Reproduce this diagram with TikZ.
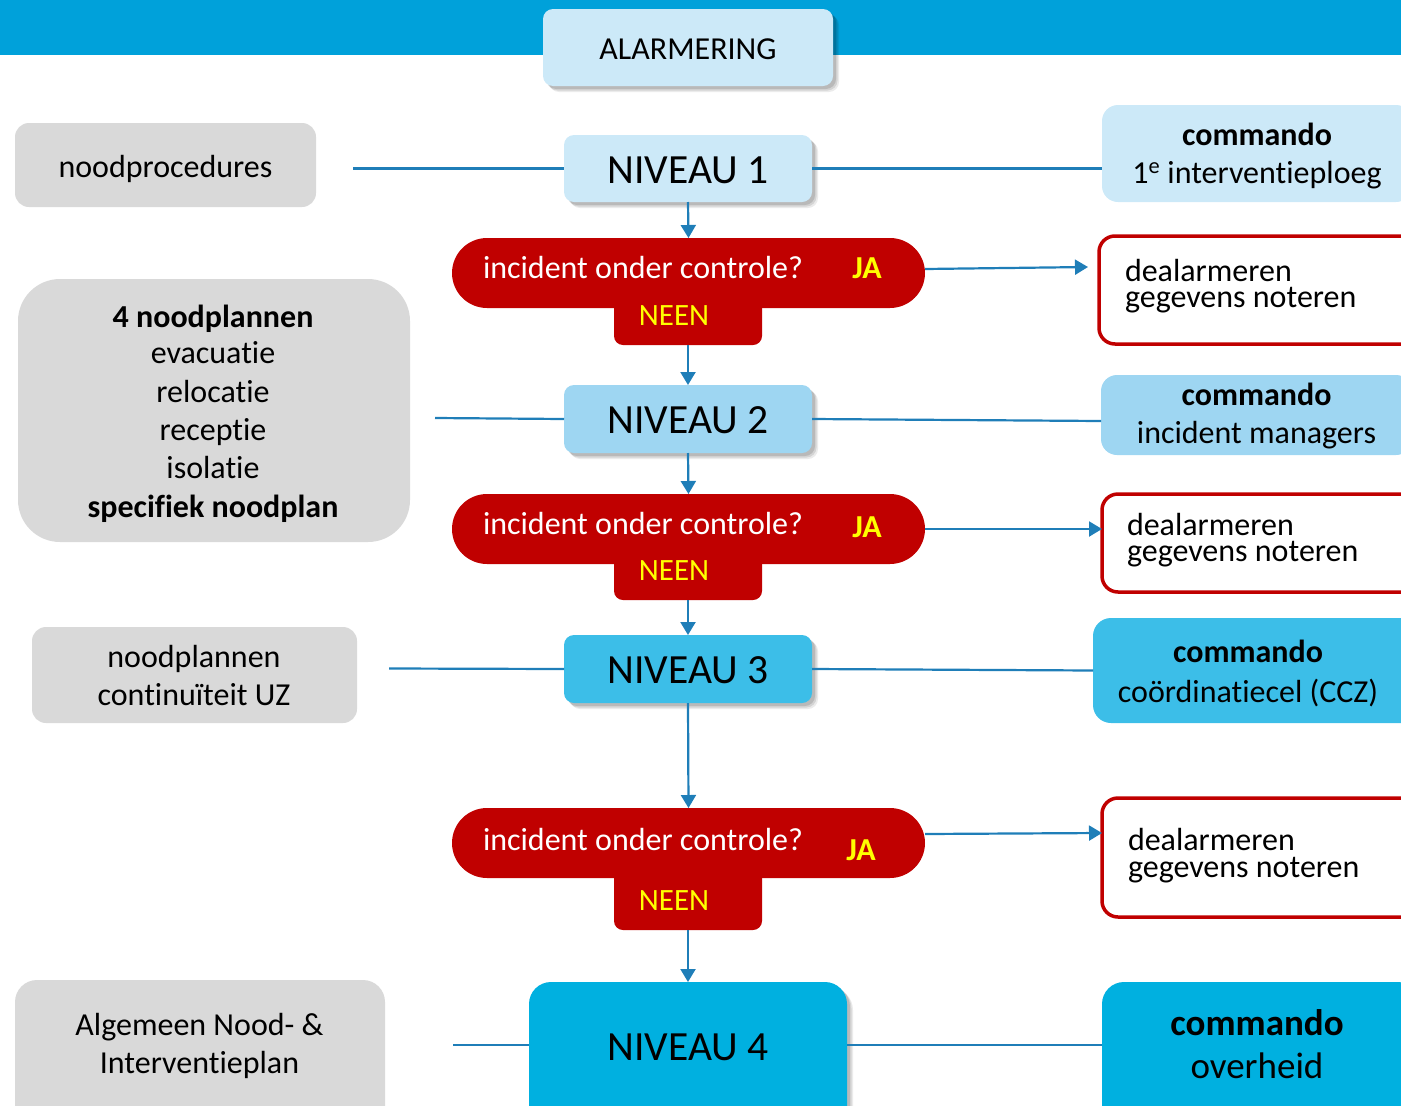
\documentclass[tikz,border=0pt]{standalone}
\usepackage{fontspec}
\setmainfont{Carlito}[Ligatures={NoCommon}]
\usetikzlibrary{shadows,arrows.meta,calc}
\definecolor{band}{RGB}{0,161,218}
\definecolor{lvlA}{RGB}{204,233,248}
\definecolor{lvlB}{RGB}{158,214,242}
\definecolor{lvlC}{RGB}{60,190,232}
\definecolor{lvlD}{RGB}{0,176,224}
\definecolor{grayb}{RGB}{217,217,217}
\definecolor{redb}{RGB}{192,0,0}
\definecolor{yel}{RGB}{255,255,0}
\definecolor{arrb}{RGB}{31,126,184}
\begin{document}
\begin{tikzpicture}[x=1pt,y=-1pt,
  box/.style={rectangle, draw=none, inner sep=0pt, outer sep=0pt},
  shad/.style={
    drop shadow={shadow xshift=6pt, shadow yshift=-6pt, opacity=0.08, fill=black},
    drop shadow={shadow xshift=4.5pt, shadow yshift=-4.5pt, opacity=0.1, fill=black},
    drop shadow={shadow xshift=3pt, shadow yshift=-3pt, opacity=0.12, fill=black}},
  lvlbox/.style={box, rounded corners=10pt, shad},
  cmdbox/.style={box, rounded corners=16pt},
  graybox/.style={box, fill=grayb, rounded corners=14pt},
  decbox/.style={box, fill=redb},
  dealbox/.style={box, draw=redb, line width=3.5pt, fill=white, rounded corners=16pt},
  txt/.style={inner sep=0pt, outer sep=0pt, anchor=base, font=\fontsize{32}{38}\selectfont},
  txtl/.style={txt, anchor=base west},
  big/.style={txt, font=\fontsize{41.5}{49}\selectfont},
  bold/.style={txt, font=\fontsize{32}{38}\selectfont\bfseries},
  ja/.style={txt, text=yel, font=\fontsize{32}{38}\selectfont\bfseries},
  neen/.style={txt, text=yel, font=\fontsize{31}{37}\selectfont},
  qtxt/.style={txtl, text=white},
  link/.style={draw=arrb, line width=2.2pt},
  arr/.style={link, -{Triangle[width=15pt,length=13pt]}}
]
\useasboundingbox (0,0) rectangle (1401,1106);
\clip (0,0) rectangle (1401,1106);

% top band
\node[box, fill=band, minimum width=1401, minimum height=55] (topband) at (700.5,27.5) {};

% left gray boxes
\node[graybox, minimum width=301, minimum height=84] (g1) at (165.5,165) {};
\node[graybox, rounded corners=42pt, minimum width=392, minimum height=263] (g2) at (214,410.5) {};
\node[graybox, minimum width=325, minimum height=96] (g3) at (194.5,675) {};
\node[graybox, rounded corners=22pt, minimum width=370, minimum height=160] (g4) at (200,1060) {};

% connector free ends
\coordinate (l1) at (353,168.5);
\coordinate (l2) at (435,418);
\coordinate (l3) at (389,668.5);
\coordinate (l4) at (453,1045);

% level boxes
\node[lvlbox, fill=lvlA, minimum width=290, minimum height=77] (alarm) at (688,47.5) {};
\node[lvlbox, fill=lvlA, minimum width=248, minimum height=67] (nv1) at (688,168.5) {};
\node[lvlbox, fill=lvlB, minimum width=248, minimum height=68] (nv2) at (688,419) {};
\node[lvlbox, fill=lvlC, minimum width=248, minimum height=68] (nv3) at (688,669) {};
\node[lvlbox, fill=lvlD, rounded corners=22pt, minimum width=318, minimum height=158] (nv4) at (688,1061) {};

% commando boxes
\node[cmdbox, fill=lvlA, minimum width=310, minimum height=97] (c1) at (1257,153.5) {};
\node[cmdbox, fill=lvlB, minimum width=311, minimum height=80] (c2) at (1256.5,415) {};
\node[cmdbox, fill=lvlC, rounded corners=18pt, minimum width=327, minimum height=105] (c3) at (1256.5,670.5) {};
\node[cmdbox, fill=lvlD, rounded corners=22pt, minimum width=318, minimum height=158] (c4) at (1261,1061) {};

% decisions
\node[decbox, rounded corners=9pt, minimum width=148, minimum height=55] (t1) at (688,317.5) {};
\node[decbox, rounded corners=35pt, minimum width=473, minimum height=70] (d1) at (688.5,273) {};
\node[decbox, rounded corners=9pt, minimum width=148, minimum height=54] (t2) at (688,573) {};
\node[decbox, rounded corners=35pt, minimum width=473, minimum height=70] (d2) at (688.5,529) {};
\node[decbox, rounded corners=9pt, minimum width=148, minimum height=70] (t3) at (688,895) {};
\node[decbox, rounded corners=35pt, minimum width=473, minimum height=70] (d3) at (688.5,843) {};

% dealarmeren boxes
\node[dealbox, minimum width=331, minimum height=108] (dl1) at (1264.5,290) {};
\node[dealbox, minimum width=328, minimum height=98] (dl2) at (1266,543) {};
\node[dealbox, minimum width=328, minimum height=119] (dl3) at (1266,857.5) {};

% horizontal links
\draw[link] (l1) -- (nv1.west);
\draw[link] (nv1.east) -- (nv1.east -| c1.west);
\draw[link] (l2) -- (nv2.west);
\draw[link] (nv2.east) -- ($(c2.west)+(0,6)$);
\draw[link] (l3) -- (nv3.west);
\draw[link] (nv3.east) -- (c3.west);
\draw[link] (l4) -- (l4 -| nv4.west);
\draw[link] (l4 -| nv4.east) -- (l4 -| c4.west);

% vertical arrows
\draw[arr] (nv1.south) -- (d1.north);
\draw[arr] (t1.south) -- (nv2.north);
\draw[arr] (nv2.south) -- (d2.north);
\draw[arr] (t2.south) -- (nv3.north);
\draw[arr] (nv3.south) -- (d3.north);
\draw[arr] (t3.south) -- (nv4.north);

% JA arrows
\coordinate (ja1) at (1088,267);
\draw[arr] ([yshift=4pt]d1.east) -- (ja1);
\draw[arr] (d2.east) -- ($(dl2.west)+(0,-14)$);
\draw[arr] ([yshift=9pt]d3.east) -- ($(dl3.west)+(0,-24.5)$);

% texts
\node[txt] (talarm) at (688,59) {ALARMERING};
\node[big] (tnv1) at (688,183) {NIVEAU 1};
\node[big] (tnv2) at (688,433) {NIVEAU 2};
\node[big] (tnv3) at (688,683) {NIVEAU 3};
\node[big] (tnv4) at (688,1060) {NIVEAU 4};

\node[txt] (tg1) at (165.5,177) {noodprocedures};
\node[bold] (tg2a) at (213,327) {4 noodplannen};
\node[txt] (tg2b) at (213,363) {evacuatie};
\node[txt] (tg2c) at (213,402) {relocatie};
\node[txt] (tg2d) at (213,440) {receptie};
\node[txt] (tg2e) at (213,478) {isolatie};
\node[bold] (tg2f) at (213,517) {specifiek noodplan};
\node[txt] (tg3a) at (194,667) {noodplannen};
\node[txt] (tg3b) at (194,705) {continuïteit UZ};
\node[txt] (tg4a) at (199.5,1035) {Algemeen Nood- \&};
\node[txt] (tg4b) at (199.5,1073) {Interventieplan};

\node[bold] (tc1a) at (1257,145) {commando};
\node[txt] (tc1b) at (1257,183) {1\textsuperscript{e} interventieploeg};
\node[bold] (tc2a) at (1256.5,405) {commando};
\node[txt] (tc2b) at (1256.5,443) {incident managers};
\node[bold] (tc3a) at (1248,662) {commando};
\node[txt] (tc3b) at (1248,702) {coördinatiecel (CCZ)};
\node[bold, font=\fontsize{37}{44}\selectfont\bfseries] (tc4a) at (1257,1035) {commando};
\node[txt, font=\fontsize{37}{44}\selectfont] (tc4b) at (1257,1078) {overheid};

\node[qtxt] (q1) at (483,278) {incident onder controle?};
\node[ja] (ja1t) at (867,278) {JA};
\node[neen] (ne1) at (674,325) {NEEN};
\node[qtxt] (q2) at (483,534) {incident onder controle?};
\node[ja] (ja2t) at (867,537) {JA};
\node[neen] (ne2) at (674,580) {NEEN};
\node[qtxt] (q3) at (483,850) {incident onder controle?};
\node[ja] (ja3t) at (861,860) {JA};
\node[neen] (ne3) at (674,910) {NEEN};

\node[txtl] (dt1a) at (1125,281) {dealarmeren};
\node[txtl] (dt1b) at (1125,307) {gegevens noteren};
\node[txtl] (dt2a) at (1127,535) {dealarmeren};
\node[txtl] (dt2b) at (1127,561) {gegevens noteren};
\node[txtl] (dt3a) at (1128,850) {dealarmeren};
\node[txtl] (dt3b) at (1128,877) {gegevens noteren};
\end{tikzpicture}
\end{document}
